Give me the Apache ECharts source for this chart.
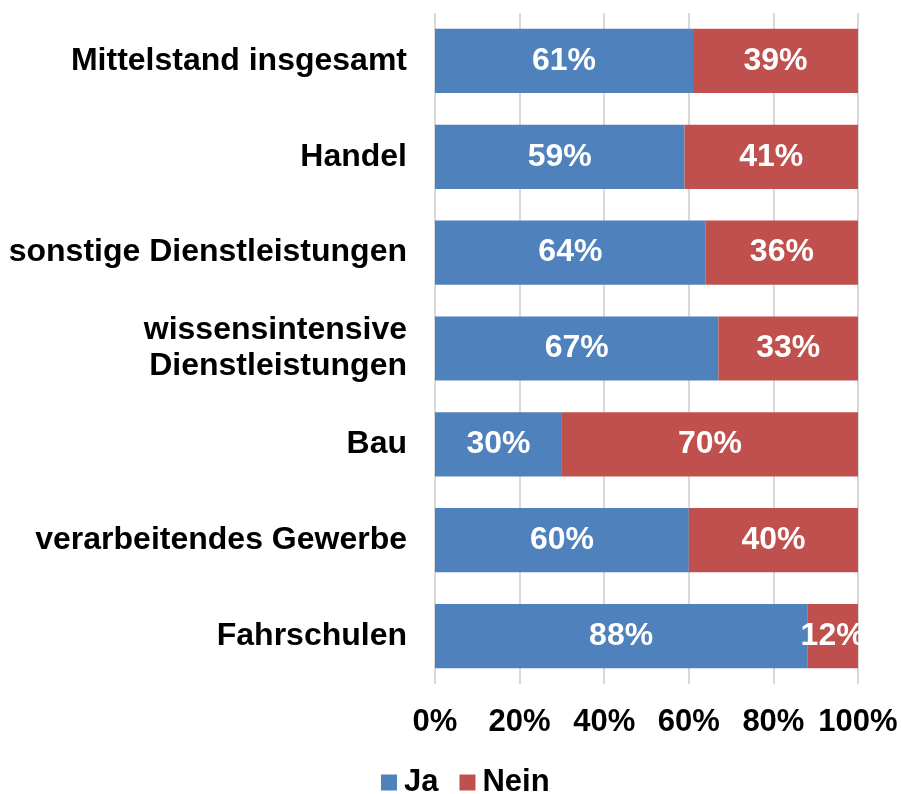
<!DOCTYPE html>
<html>
<head>
<meta charset="utf-8">
<script src="https://cdn.jsdelivr.net/npm/echarts@6/dist/echarts.min.js"></script>
<style>
    html, body { margin: 0; padding: 0; background: #fff; }
    #chart { width: 901px; height: 794px; }
</style>
</head>
<body>
<div id="chart"></div>
<script>
// Kategorien (von oben nach unten)
const categories = [
    'Mittelstand insgesamt',
    'Handel',
    'sonstige Dienstleistungen',
    'wissensintensive\nDienstleistungen',
    'Bau',
    'verarbeitendes Gewerbe',
    'Fahrschulen'
];
const jaValues = [61, 59, 64, 67, 30, 60, 88];
const neinValues = [39, 41, 36, 33, 70, 40, 12];
const seriesNames = ['Ja', 'Nein'];

const colors = {
    ja: '#4F81BD',
    nein: '#C0504D',
    grid: '#D9D9D9',
    text: '#000000'
};

const font = '"Liberation Sans", Arial, sans-serif';

const chart = echarts.init(document.getElementById('chart'));

const barLabel = {
    show: true,
    position: 'inside',
    color: '#fff',
    fontFamily: font,
    fontWeight: 'bold',
    fontSize: 32,
    formatter: '{c}%'
};

const option = {
    animation: false,
    legend: {
        data: seriesNames,
        top: 762,
        left: 376,
        itemWidth: 16,
        itemHeight: 16,
        itemGap: 21,
        icon: 'rect',
        textStyle: {
            color: colors.text,
            fontFamily: font,
            fontWeight: 'bold',
            fontSize: 31,
            padding: [0, 0, 0, 2]
        }
    },
    grid: {
        left: 435,
        right: 43,
        top: 13,
        bottom: 110
    },
    xAxis: {
        type: 'value',
        min: 0,
        max: 100,
        interval: 20,
        axisLine: { show: false },
        axisTick: { show: false },
        splitLine: {
            lineStyle: { color: colors.grid, width: 2 }
        },
        axisLabel: {
            color: colors.text,
            fontFamily: font,
            fontWeight: 'bold',
            fontSize: 31,
            margin: 23,
            formatter: '{value}%'
        }
    },
    yAxis: {
        type: 'category',
        inverse: true,
        data: categories,
        axisLine: { show: false },
        axisTick: { show: false },
        axisLabel: {
            color: colors.text,
            fontFamily: font,
            fontWeight: 'bold',
            fontSize: 32,
            lineHeight: 36,
            margin: 28
        }
    },
    series: [
        {
            name: seriesNames[0],
            type: 'bar',
            stack: 'total',
            barCategoryGap: '33%',
            data: jaValues,
            itemStyle: { color: colors.ja },
            label: barLabel
        },
        {
            name: seriesNames[1],
            type: 'bar',
            stack: 'total',
            data: neinValues,
            itemStyle: { color: colors.nein },
            label: barLabel
        }
    ]
};

chart.setOption(option);
</script>
</body>
</html>
